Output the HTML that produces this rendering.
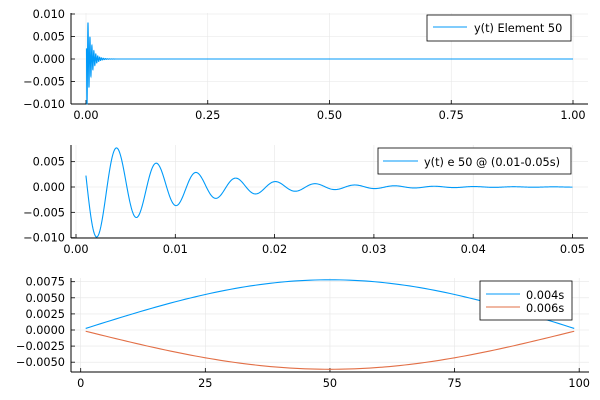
<!DOCTYPE html>
<html><head><meta charset="utf-8"><style>
body{margin:0;background:#fff}
svg{display:block}
text{font-family:"DejaVu Sans","Liberation Sans",sans-serif;font-size:11.3px;fill:#000}
</style></head><body>
<svg id="s" width="600" height="400" xmlns="http://www.w3.org/2000/svg"></svg>
<script>
const s=document.getElementById('s');let h='';
function f(t){const tau=0.0081;return 0.0128*Math.exp(-t/tau)*Math.cos(2*Math.PI*(t-0.004)/0.004-0.2);}
function panel(o){
 const {L,R,T,B,xmap,ymap,xt,yt}=o;
 xt.forEach(([v,l])=>{const x=xmap(v);h+=`<line x1="${x}" y1="${T}" x2="${x}" y2="${B}" stroke="#e6e6e6" stroke-width="0.6"/>`;});
 yt.forEach(([v,l])=>{const y=ymap(v);h+=`<line x1="${L}" y1="${y}" x2="${R}" y2="${y}" stroke="#e6e6e6" stroke-width="0.6"/>`;});
 h+=`<line x1="${L}" y1="${B}" x2="${R}" y2="${B}" stroke="#000" stroke-width="1"/>`;
 h+=`<line x1="${L}" y1="${T}" x2="${L}" y2="${B}" stroke="#000" stroke-width="1"/>`;
 xt.forEach(([v,l])=>{const x=xmap(v);h+=`<line x1="${x}" y1="${B}" x2="${x}" y2="${B-4}" stroke="#000" stroke-width="0.8"/><text x="${x}" y="${B+15}" text-anchor="middle">${l}</text>`;});
 yt.forEach(([v,l])=>{const y=ymap(v);h+=`<line x1="${L}" y1="${y}" x2="${L+4}" y2="${y}" stroke="#000" stroke-width="0.8"/><text x="${L-6}" y="${y+4}" text-anchor="end">${l}</text>`;});
}
function poly(pts,c){h+=`<polyline fill="none" stroke="${c}" stroke-width="1.1" points="${pts.map(p=>p[0].toFixed(2)+','+p[1].toFixed(2)).join(' ')}"/>`;}
const M='\u2212';
{const L=71,R=588,T=13,B=104;const xm=v=>86+v*487,ym=v=>59-v*4500;
 panel({L,R,T,B,xmap:xm,ymap:ym,xt:[[0,'0.00'],[0.25,'0.25'],[0.5,'0.50'],[0.75,'0.75'],[1,'1.00']],yt:[[0.01,'0.010'],[0.005,'0.005'],[0,'0.000'],[-0.005,M+'0.005'],[-0.01,M+'0.010']]});
 const p=[];for(let i=10;i<=600;i++){const t=i*0.0001;let v=Math.max(-0.01,Math.min(0.01,f(t)*1.05));p.push([xm(t),ym(v)]);}
 for(let i=7;i<=100;i++){const t=i*0.01;p.push([xm(t),ym(f(t))]);}
 poly(p,'#009af9');
 h+=`<rect x="427" y="15" width="144" height="26" fill="#fff" stroke="#000" stroke-width="0.8"/><line x1="433" y1="27" x2="467" y2="27" stroke="#009af9" stroke-width="1.1"/><text x="474" y="32">y(t) Element 50</text>`;
}
{const L=71,R=588,T=145,B=238;const xm=v=>76+v*9930,ym=v=>187-v*5066;
 panel({L,R,T,B,xmap:xm,ymap:ym,xt:[[0,'0.00'],[0.01,'0.01'],[0.02,'0.02'],[0.03,'0.03'],[0.04,'0.04'],[0.05,'0.05']],yt:[[0.005,'0.005'],[0,'0.000'],[-0.005,M+'0.005'],[-0.01,M+'0.010']]});
 const p=[];for(let i=20;i<=1000;i++){const t=i*0.00005;p.push([xm(t),ym(f(t))]);}
 poly(p,'#009af9');
 h+=`<rect x="378" y="148" width="193" height="26" fill="#fff" stroke="#000" stroke-width="0.8"/><line x1="383" y1="161" x2="418" y2="161" stroke="#009af9" stroke-width="1.1"/><text x="424" y="166">y(t) e 50 @ (0.01-0.05s)</text>`;
}
{const L=71,R=589,T=278,B=372;const xm=v=>80.7+v*4.985,ym=v=>330-v*6440;
 panel({L,R,T,B,xmap:xm,ymap:ym,xt:[[0,'0'],[25,'25'],[50,'50'],[75,'75'],[100,'100']],yt:[[0.0075,'0.0075'],[0.005,'0.0050'],[0.0025,'0.0025'],[0,'0.0000'],[-0.0025,M+'0.0025'],[-0.005,M+'0.0050']]});
 const a=[],b=[];for(let i=1;i<=99;i++){const sn=Math.sin(Math.PI*i/100);a.push([xm(i),ym(0.0078*sn)]);b.push([xm(i),ym(-0.0061*sn)]);}
 poly(a,'#009af9');poly(b,'#e26f46');
 h+=`<rect x="480" y="281" width="92" height="39" fill="#fff" stroke="#000" stroke-width="0.8"/><line x1="486" y1="294" x2="520" y2="294" stroke="#009af9" stroke-width="1.1"/><text x="526" y="299">0.004s</text><line x1="486" y1="307" x2="520" y2="307" stroke="#e26f46" stroke-width="1.1"/><text x="526" y="312">0.006s</text>`;
}
s.innerHTML=h;
</script>
</body></html>
